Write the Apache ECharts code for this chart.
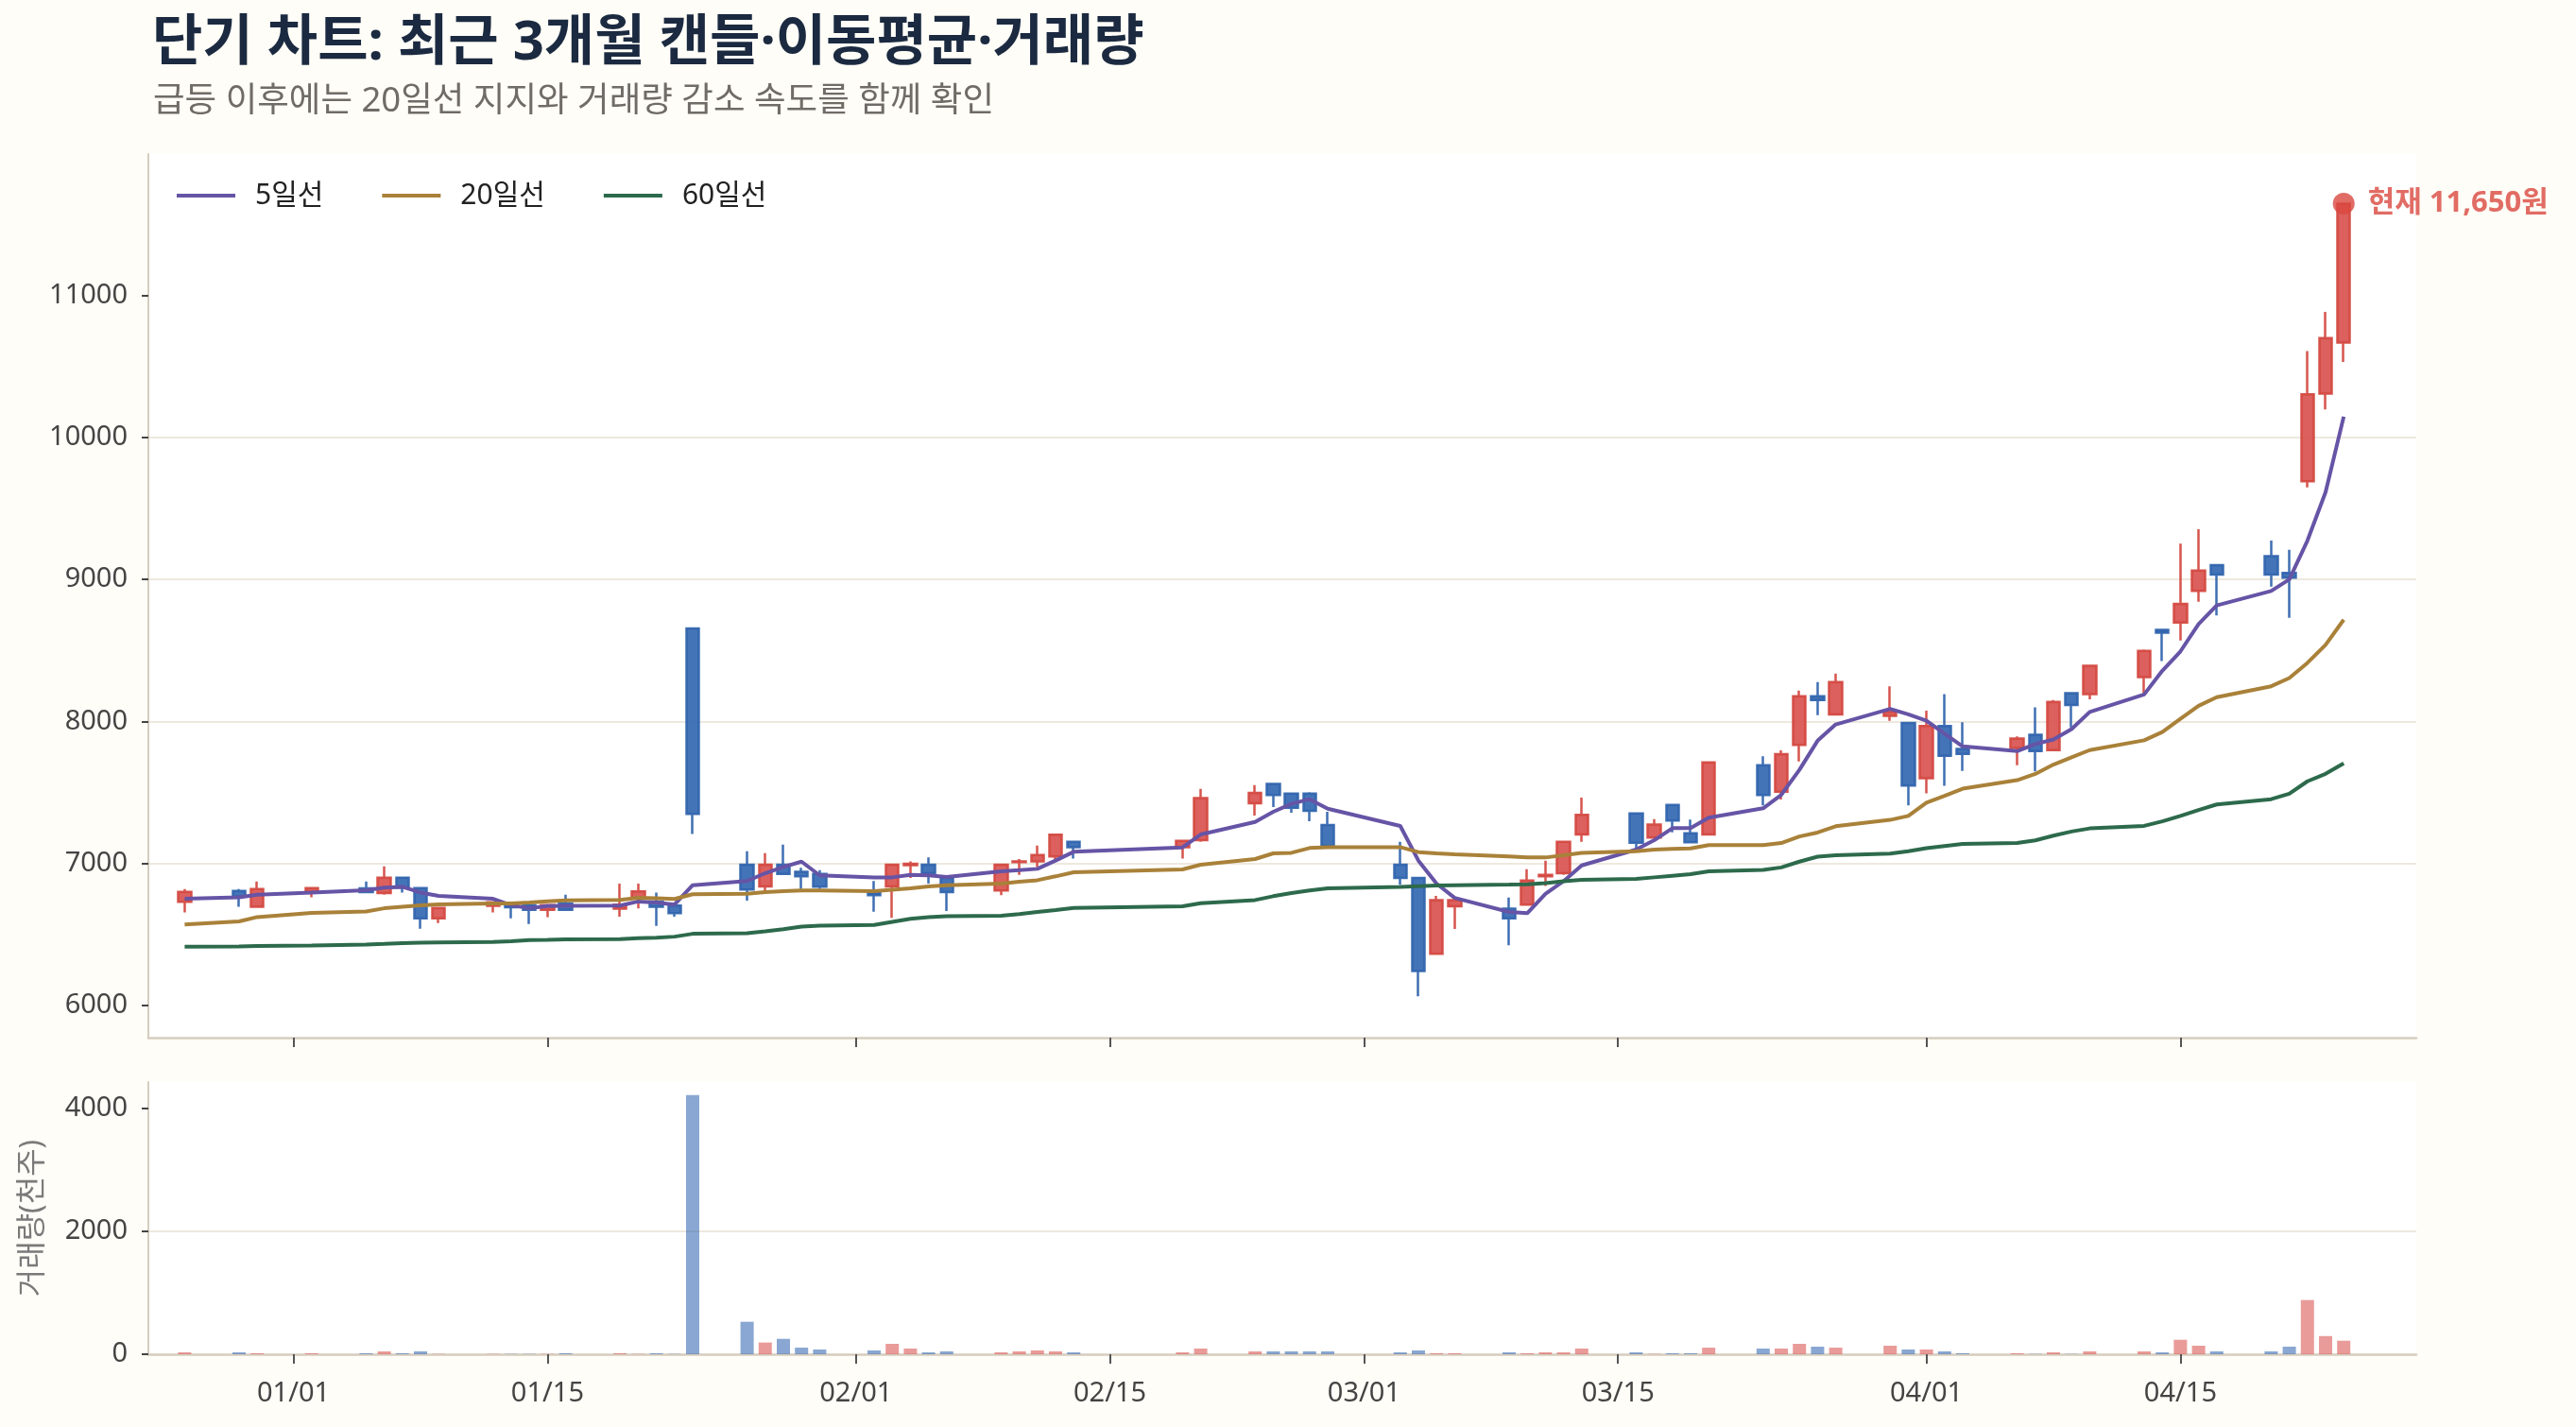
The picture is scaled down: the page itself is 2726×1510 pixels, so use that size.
<!DOCTYPE html>
<html>
<head>
<meta charset="utf-8">
<script src="https://cdn.jsdelivr.net/npm/echarts@6/dist/echarts.min.js"></script>
<style>
    html, body { margin: 0; padding: 0; background: #fffdf7; }
    #chart { width: 2726px; height: 1510px; }
</style>
</head>
<body>
<div id="chart"></div>
<script>
// 거래일 (한국 증시 휴장일 제외)
const dates = [
    '2025-12-26', '2025-12-29', '2025-12-30', '2026-01-02', '2026-01-05', '2026-01-06', '2026-01-07', '2026-01-08', '2026-01-09',
    '2026-01-12', '2026-01-13', '2026-01-14', '2026-01-15', '2026-01-16', '2026-01-19', '2026-01-20', '2026-01-21', '2026-01-22',
    '2026-01-23', '2026-01-26', '2026-01-27', '2026-01-28', '2026-01-29', '2026-01-30', '2026-02-02', '2026-02-03', '2026-02-04',
    '2026-02-05', '2026-02-06', '2026-02-09', '2026-02-10', '2026-02-11', '2026-02-12', '2026-02-13', '2026-02-19', '2026-02-20',
    '2026-02-23', '2026-02-24', '2026-02-25', '2026-02-26', '2026-02-27', '2026-03-03', '2026-03-04', '2026-03-05', '2026-03-06',
    '2026-03-09', '2026-03-10', '2026-03-11', '2026-03-12', '2026-03-13', '2026-03-16', '2026-03-17', '2026-03-18', '2026-03-19',
    '2026-03-20', '2026-03-23', '2026-03-24', '2026-03-25', '2026-03-26', '2026-03-27', '2026-03-30', '2026-03-31', '2026-04-01',
    '2026-04-02', '2026-04-03', '2026-04-06', '2026-04-07', '2026-04-08', '2026-04-09', '2026-04-10', '2026-04-13', '2026-04-14',
    '2026-04-15', '2026-04-16', '2026-04-17', '2026-04-20', '2026-04-21', '2026-04-22', '2026-04-23', '2026-04-24'
];

const open = [
    6727, 6804, 6693, 6800, 6822, 6789, 6898, 6824, 6611, 6700, 6716, 6705, 6671, 6716,
    6679, 6752, 6730, 6701, 8654, 6989, 6836, 6989, 6940, 6925,
    6792, 6836, 6985, 6989, 6896, 6807, 7007, 7013, 7047, 7151, 7113, 7162, 7422, 7558, 7491, 7491, 7269,
    6989, 6896, 6362, 6696, 6680, 6707, 6907, 6929, 7202, 7351, 7180, 7411, 7211, 7202, 7691, 7503, 7834, 8177, 8049, 8038, 7989,
    7598, 7967, 7806, 7812, 7905, 7797, 8199, 8192, 8311, 8645, 8696, 8919, 9101, 9165, 9046, 9692, 10310, 10670
];
const close = [
    6798, 6764, 6818, 6824, 6796, 6898, 6827, 6611, 6684, 6725, 6689, 6671, 6705, 6671,
    6708, 6801, 6692, 6648, 7348, 6814, 6989, 6925, 6907, 6834,
    6774, 6989, 6995, 6929, 6796, 6989, 7013, 7058, 7200, 7113, 7158, 7458, 7496, 7480, 7391, 7369, 7122,
    6896, 6240, 6740, 6740, 6611, 6878, 6918, 7151, 7340, 7144, 7273, 7300, 7147, 7710, 7481, 7768, 8177, 8150, 8276, 8066, 7547,
    7967, 7757, 7770, 7879, 7790, 8137, 8115, 8391, 8496, 8625, 8828, 9063, 9035, 9035, 9013, 10305, 10701, 11650
];
const low = [
    6653, 6693, 6693, 6760, 6790, 6778, 6793, 6538, 6578, 6653, 6611, 6571, 6620, 6665,
    6623, 6681, 6557, 6623, 7206, 6736, 6803, 6918, 6818, 6818,
    6657, 6615, 6896, 6856, 6663, 6774, 6918, 6973, 7029, 7033, 7033, 7151, 7336, 7396, 7356, 7296, 7122,
    6847, 6062, 6362, 6536, 6422, 6707, 6840, 6918, 7151, 7100, 7180, 7218, 7147, 7200, 7408, 7448, 7717, 8044, 8049, 8004, 7408,
    7492, 7545, 7651, 7691, 7647, 7797, 7956, 8155, 8196, 8425, 8569, 8843, 8746, 8949, 8729, 9649, 10199, 10534
];
const high = [
    6818, 6818, 6871, 6831, 6871, 6978, 6900, 6828, 6688, 6730, 6720, 6708, 6710, 6778,
    6856, 6856, 6792, 6705, 8660, 7084, 7071, 7131, 6967, 6951,
    6874, 6995, 7013, 7040, 6900, 6995, 7029, 7124, 7207, 7155, 7160, 7524, 7551, 7562, 7495, 7500, 7362,
    7151, 6900, 6769, 6745, 6758, 6958, 7018, 7155, 7462, 7355, 7311, 7415, 7307, 7713, 7753, 7795, 8216, 8276, 8336, 8247, 7993,
    8075, 8192, 7993, 7894, 8099, 8150, 8203, 8395, 8506, 8650, 9253, 9355, 9105, 9274, 9210, 10610, 10886, 11650
];
// 거래량 (천주)
const volume = [
    31, 31, 15, 15, 15, 46, 15, 46, 5, 5, 5, 5, 5, 15,
    15, 5, 15, 5, 4210, 527, 190, 250, 107, 77,
    61, 169, 92, 31, 46, 31, 46, 61, 46, 31, 31, 92, 46, 46, 46, 46, 46,
    31, 61, 15, 15, 31, 15, 31, 31, 92, 31, 5, 15, 15, 107, 92, 92, 169, 123, 107, 138, 77,
    77, 46, 15, 15, 5, 31, 5, 46, 46, 31, 235, 138, 46, 46, 123, 880, 295, 220
];
const ma5 = [
    6749, 6760, 6778, 6793, 6809, 6827, 6833, 6793, 6769, 6749, 6704, 6682, 6698, 6700,
    6701, 6730, 6723, 6708, 6845, 6874, 6929, 6973, 7011, 6914,
    6900, 6900, 6918, 6914, 6903, 6943, 6951, 6960, 7018, 7080, 7111, 7202, 7291, 7362, 7418, 7451, 7384,
    7262, 7018, 6856, 6755, 6656, 6647, 6784, 6873, 6984, 7096, 7162, 7247, 7247, 7321, 7387, 7482, 7658, 7863, 7978, 8088, 8049,
    8004, 7912, 7823, 7790, 7839, 7872, 7945, 8066, 8189, 8356, 8493, 8686, 8817, 8919, 9000, 9274, 9616, 10148
];
const ma20 = [
    6567, 6589, 6620, 6649, 6660, 6682, 6693, 6702, 6709, 6716, 6716, 6722, 6731, 6737,
    6741, 6756, 6752, 6748, 6781, 6785, 6796, 6803, 6807, 6807,
    6803, 6812, 6823, 6836, 6845, 6856, 6869, 6880, 6907, 6936, 6956, 6989, 7029, 7069, 7073, 7107, 7113,
    7113, 7078, 7069, 7063, 7047, 7040, 7040, 7056, 7073, 7084, 7096, 7100, 7104, 7127, 7128, 7142, 7188, 7216, 7260, 7305, 7333,
    7426, 7475, 7525, 7585, 7629, 7695, 7746, 7797, 7866, 7924, 8017, 8109, 8170, 8247, 8305, 8412, 8539, 8716
];
const ma60 = [
    6411, 6413, 6416, 6420, 6427, 6431, 6436, 6440, 6442, 6444, 6449, 6458, 6460, 6463,
    6464, 6471, 6475, 6482, 6502, 6506, 6519, 6535, 6553, 6559,
    6564, 6586, 6608, 6619, 6626, 6630, 6641, 6656, 6669, 6684, 6696, 6718, 6740, 6767, 6789, 6807, 6822,
    6833, 6838, 6842, 6844, 6849, 6851, 6860, 6873, 6882, 6889, 6900, 6911, 6922, 6942, 6952, 6970, 7011, 7046, 7055, 7068, 7084,
    7106, 7121, 7135, 7143, 7161, 7194, 7223, 7245, 7263, 7295, 7333, 7375, 7414, 7451, 7490, 7577, 7630, 7704
];

// 축 눈금
const dateTicks = ['2026-01-01', '2026-01-15', '2026-02-01', '2026-02-15', '2026-03-01', '2026-03-15', '2026-04-01', '2026-04-15'];
const priceTicks = [6000, 7000, 8000, 9000, 10000, 11000];
const volumeTicks = [0, 2000, 4000];

const UP = '#d9534f';
const DOWN = '#3468b2';
const FONT = "'Noto Sans', 'Noto Sans CJK KR', sans-serif";

// 'YYYY-MM-DD' -> 로컬 타임스탬프
function toTime(s) {
    const p = s.split('-').map(Number);
    return new Date(p[0], p[1] - 1, p[2]).getTime();
}
function mmdd(v) {
    const d = new Date(v);
    return String(d.getMonth() + 1).padStart(2, '0') + '/' + String(d.getDate()).padStart(2, '0');
}

const times = dates.map(toTime);
const tickTimes = dateTicks.map(toTime);
const xMin = toTime('2025-12-24');
const xMax = toTime('2026-04-28');
const last = dates.length - 1;

let myChart = echarts.init(document.getElementById('chart'));

const axisLineStyle = { color: '#d6cdbf', width: 2.5 };
const gridLineStyle = { color: '#eee8de', width: 2 };

let option = {
    backgroundColor: '#fffdf7',
    animation: false,
    textStyle: { fontFamily: FONT },
    title: [
        {
            text: '단기 차트: 최근 3개월 캔들·이동평균·거래량',
            left: 156, top: 12,
            textStyle: { fontSize: 58, fontWeight: 'bold', color: '#1b2a40', fontFamily: FONT }
        },
        {
            text: '급등 이후에는 20일선 지지와 거래량 감소 속도를 함께 확인',
            left: 157, top: 84,
            textStyle: { fontSize: 36.5, fontWeight: 'normal', color: '#6f6b66', fontFamily: FONT }
        }
    ],
    legend: {
        left: 182, top: 187,
        icon: 'rect',
        itemWidth: 62, itemHeight: 4,
        itemGap: 62,
        textStyle: { fontSize: 30, color: '#222', padding: [0, 0, 0, 16], fontFamily: FONT },
        data: ['5일선', '20일선', '60일선']
    },
    grid: [
        { left: 157, right: 169, top: 163, height: 935, show: true, backgroundColor: '#ffffff', borderWidth: 0 },
        { left: 157, right: 169, top: 1145, height: 288, show: true, backgroundColor: '#ffffff', borderWidth: 0 }
    ],
    xAxis: [
        {
            type: 'value', gridIndex: 0, min: xMin, max: xMax, scale: true,
            axisLine: { lineStyle: axisLineStyle },
            axisTick: { show: true, customValues: tickTimes, length: 10, lineStyle: { color: '#555', width: 2 } },
            axisLabel: { show: false },
            splitLine: { show: false }
        },
        {
            type: 'value', gridIndex: 1, min: xMin, max: xMax, scale: true,
            axisLine: { lineStyle: axisLineStyle },
            axisTick: { show: true, customValues: tickTimes, length: 10, lineStyle: { color: '#555', width: 2 } },
            axisLabel: { customValues: tickTimes, formatter: mmdd, fontSize: 29, color: '#444', margin: 27 },
            splitLine: { show: false }
        }
    ],
    yAxis: [
        {
            type: 'value', gridIndex: 0, min: 5770, max: 11999,
            minInterval: 1000, maxInterval: 1000,
            axisLine: { show: true, lineStyle: { color: '#d6cdbf', width: 2 } },
            axisTick: { show: true, customValues: priceTicks, length: 7, lineStyle: { color: '#444', width: 2 } },
            axisLabel: { customValues: priceTicks, formatter: v => String(v), fontSize: 29, color: '#444', margin: 22 },
            splitLine: { show: true, showMinLine: false, showMaxLine: false, lineStyle: gridLineStyle }
        },
        {
            type: 'value', gridIndex: 1, min: 0, max: 4420, interval: 2000,
            name: '거래량(천주)', nameLocation: 'middle', nameGap: 106,
            nameTextStyle: { fontSize: 32, color: '#7a7a7a', fontFamily: FONT },
            axisLine: { show: true, lineStyle: { color: '#d6cdbf', width: 2 } },
            axisTick: { show: true, customValues: volumeTicks, length: 7, lineStyle: { color: '#444', width: 2 } },
            axisLabel: { customValues: volumeTicks, formatter: v => String(v), fontSize: 29, color: '#444', margin: 22 },
            splitLine: { show: true, showMinLine: false, showMaxLine: false, lineStyle: gridLineStyle }
        }
    ],
    series: [
        {
            name: '캔들',
            type: 'candlestick',
            xAxisIndex: 0, yAxisIndex: 0,
            barWidth: 14,
            data: times.map((t, i) => [t, open[i], close[i], low[i], high[i]]),
            itemStyle: {
                color: UP, color0: DOWN,
                borderColor: '#d3463f', borderColor0: '#2f63ad',
                borderWidth: 2.5,
                opacity: 0.92
            },
            z: 2
        },
        {
            name: '5일선', type: 'line', xAxisIndex: 0, yAxisIndex: 0,
            data: times.map((t, i) => [t, ma5[i]]),
            showSymbol: false, symbol: 'none',
            lineStyle: { color: '#6654a6', width: 4 }, itemStyle: { color: '#6654a6' },
            z: 3
        },
        {
            name: '20일선', type: 'line', xAxisIndex: 0, yAxisIndex: 0,
            data: times.map((t, i) => [t, ma20[i]]),
            showSymbol: false, symbol: 'none',
            lineStyle: { color: '#a98139', width: 4 }, itemStyle: { color: '#a98139' },
            z: 3
        },
        {
            name: '60일선', type: 'line', xAxisIndex: 0, yAxisIndex: 0,
            data: times.map((t, i) => [t, ma60[i]]),
            showSymbol: false, symbol: 'none',
            lineStyle: { color: '#2d6a4c', width: 4 }, itemStyle: { color: '#2d6a4c' },
            z: 3
        },
        {
            // 현재가 표시
            type: 'scatter', xAxisIndex: 0, yAxisIndex: 0,
            data: [[times[last], close[last]]],
            symbolSize: 23,
            itemStyle: { color: '#d9473f' },
            label: {
                show: true, position: 'right', distance: 14,
                formatter: () => '현재 ' + close[last].toLocaleString('en-US') + '원',
                fontSize: 31, fontWeight: 'bold', color: '#d9473f', fontFamily: FONT
            },
            z: 5
        },
        {
            name: '거래량', type: 'bar',
            xAxisIndex: 1, yAxisIndex: 1,
            barWidth: 14,
            data: times.map((t, i) => ({
                value: [t, volume[i]],
                itemStyle: { color: close[i] >= open[i] ? UP : DOWN, opacity: 0.58 }
            }))
        }
    ]
};
myChart.setOption(option);
</script>
</body>
</html>
